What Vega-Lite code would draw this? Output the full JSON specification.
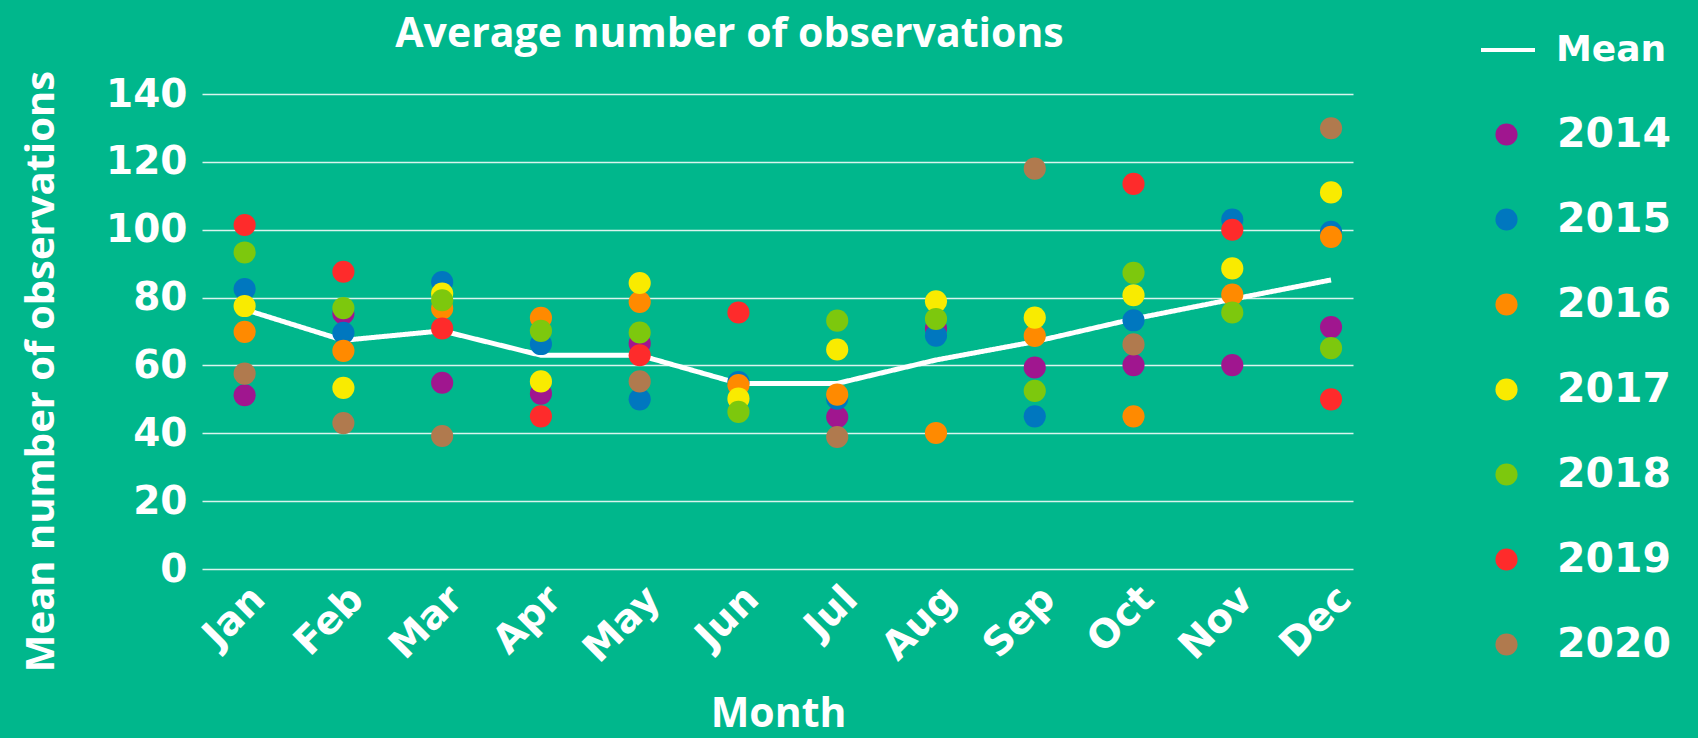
{
  "$schema": "https://vega.github.io/schema/vega-lite/v6.json",
  "autosize": {"type": "none"},
  "padding": {"left": 202, "top": 94, "right": 345, "bottom": 169},
  "width": 1151,
  "height": 475,
  "background": "#00B78C",
  "title": {
    "text": "Average number of observations",
    "color": "white",
    "font": "Open Sans",
    "fontWeight": 700,
    "fontSize": 41,
    "anchor": "middle",
    "frame": "group",
    "baseline": "alphabetic",
    "offset": -67,
    "dx": -48
  },
  "config": {
    "view": {"stroke": null},
    "axis": {"domain": false, "ticks": false}
  },
  "datasets": {
    "points": [
      {"month": "Jan", "year": "2014", "value": 51.2},
      {"month": "Jan", "year": "2015", "value": 82.5},
      {"month": "Jan", "year": "2016", "value": 69.9},
      {"month": "Jan", "year": "2017", "value": 77.5},
      {"month": "Jan", "year": "2018", "value": 93.3},
      {"month": "Jan", "year": "2019", "value": 101.4},
      {"month": "Jan", "year": "2020", "value": 57.6},
      {"month": "Feb", "year": "2014", "value": 75.3},
      {"month": "Feb", "year": "2015", "value": 69.6},
      {"month": "Feb", "year": "2016", "value": 64.3},
      {"month": "Feb", "year": "2017", "value": 53.4},
      {"month": "Feb", "year": "2018", "value": 76.9},
      {"month": "Feb", "year": "2019", "value": 87.6},
      {"month": "Feb", "year": "2020", "value": 43.0},
      {"month": "Mar", "year": "2014", "value": 54.9},
      {"month": "Mar", "year": "2015", "value": 84.6},
      {"month": "Mar", "year": "2016", "value": 76.8},
      {"month": "Mar", "year": "2017", "value": 81.2},
      {"month": "Mar", "year": "2018", "value": 79.2},
      {"month": "Mar", "year": "2019", "value": 70.9},
      {"month": "Mar", "year": "2020", "value": 39.2},
      {"month": "Apr", "year": "2014", "value": 51.7},
      {"month": "Apr", "year": "2015", "value": 66.3},
      {"month": "Apr", "year": "2016", "value": 74.0},
      {"month": "Apr", "year": "2017", "value": 55.3},
      {"month": "Apr", "year": "2018", "value": 70.2},
      {"month": "Apr", "year": "2019", "value": 45.0},
      {"month": "May", "year": "2014", "value": 66.5},
      {"month": "May", "year": "2015", "value": 50.0},
      {"month": "May", "year": "2016", "value": 78.7},
      {"month": "May", "year": "2017", "value": 84.3},
      {"month": "May", "year": "2018", "value": 69.7},
      {"month": "May", "year": "2019", "value": 63.0},
      {"month": "May", "year": "2020", "value": 55.3},
      {"month": "Jun", "year": "2015", "value": 55.1},
      {"month": "Jun", "year": "2016", "value": 54.2},
      {"month": "Jun", "year": "2017", "value": 50.2},
      {"month": "Jun", "year": "2018", "value": 46.3},
      {"month": "Jun", "year": "2019", "value": 75.6},
      {"month": "Jul", "year": "2014", "value": 44.8},
      {"month": "Jul", "year": "2015", "value": 50.2},
      {"month": "Jul", "year": "2016", "value": 51.4},
      {"month": "Jul", "year": "2017", "value": 64.7},
      {"month": "Jul", "year": "2018", "value": 73.2},
      {"month": "Jul", "year": "2020", "value": 38.9},
      {"month": "Aug", "year": "2014", "value": 70.9},
      {"month": "Aug", "year": "2015", "value": 68.8},
      {"month": "Aug", "year": "2016", "value": 40.1},
      {"month": "Aug", "year": "2017", "value": 78.9},
      {"month": "Aug", "year": "2018", "value": 73.7},
      {"month": "Sep", "year": "2014", "value": 59.4},
      {"month": "Sep", "year": "2015", "value": 45.0},
      {"month": "Sep", "year": "2016", "value": 68.7},
      {"month": "Sep", "year": "2017", "value": 74.1},
      {"month": "Sep", "year": "2018", "value": 52.5},
      {"month": "Sep", "year": "2020", "value": 118.0},
      {"month": "Oct", "year": "2014", "value": 60.1},
      {"month": "Oct", "year": "2015", "value": 73.3},
      {"month": "Oct", "year": "2016", "value": 45.0},
      {"month": "Oct", "year": "2017", "value": 80.7},
      {"month": "Oct", "year": "2018", "value": 87.3},
      {"month": "Oct", "year": "2019", "value": 113.5},
      {"month": "Oct", "year": "2020", "value": 66.2},
      {"month": "Nov", "year": "2014", "value": 60.1},
      {"month": "Nov", "year": "2015", "value": 103.0},
      {"month": "Nov", "year": "2016", "value": 80.9},
      {"month": "Nov", "year": "2017", "value": 88.6},
      {"month": "Nov", "year": "2018", "value": 75.6},
      {"month": "Nov", "year": "2019", "value": 100.0},
      {"month": "Dec", "year": "2014", "value": 71.3},
      {"month": "Dec", "year": "2015", "value": 99.4},
      {"month": "Dec", "year": "2016", "value": 97.9},
      {"month": "Dec", "year": "2017", "value": 111.0},
      {"month": "Dec", "year": "2018", "value": 65.1},
      {"month": "Dec", "year": "2019", "value": 50.0},
      {"month": "Dec", "year": "2020", "value": 129.9}
    ],
    "mean": [
      {"month": "Jan", "series": "Mean", "value": 76.5},
      {"month": "Feb", "series": "Mean", "value": 67.4},
      {"month": "Mar", "series": "Mean", "value": 70.2},
      {"month": "Apr", "series": "Mean", "value": 63.0},
      {"month": "May", "series": "Mean", "value": 63.0},
      {"month": "Jun", "series": "Mean", "value": 54.7},
      {"month": "Jul", "series": "Mean", "value": 54.7},
      {"month": "Aug", "series": "Mean", "value": 61.6},
      {"month": "Sep", "series": "Mean", "value": 67.0},
      {"month": "Oct", "series": "Mean", "value": 73.7},
      {"month": "Nov", "series": "Mean", "value": 79.5},
      {"month": "Dec", "series": "Mean", "value": 85.2}
    ]
  },
  "encoding": {
    "x": {
      "field": "month",
      "type": "ordinal",
      "sort": ["Jan", "Feb", "Mar", "Apr", "May", "Jun", "Jul", "Aug", "Sep", "Oct", "Nov", "Dec"],
      "scale": {"type": "point", "padding": 0.327, "align": 0.66},
      "axis": {
        "title": "Month",
        "titleColor": "white",
        "titleFont": "Open Sans",
        "titleFontWeight": 700,
        "titleFontSize": 41,
        "titleBaseline": "alphabetic",
        "titleAlign": "center",
        "titleX": 576,
        "titleY": 157,
        "labelAngle": -45,
        "labelColor": "white",
        "labelFont": "DejaVu Sans",
        "labelFontWeight": "bold",
        "labelFontSize": 39,
        "labelPadding": 10,
        "grid": false
      }
    },
    "y": {
      "field": "value",
      "type": "quantitative",
      "scale": {"domain": [0, 140], "nice": false},
      "axis": {
        "title": "Mean number of observations",
        "titleColor": "white",
        "titleFont": "Open Sans",
        "titleFontWeight": 700,
        "titleFontSize": 40,
        "titleBaseline": "alphabetic",
        "titleAlign": "center",
        "titleAngle": -90,
        "titleX": -149,
        "titleY": 277,
        "values": [0, 20, 40, 60, 80, 100, 120, 140],
        "labelColor": "white",
        "labelFont": "DejaVu Sans",
        "labelFontWeight": "bold",
        "labelFontSize": 39,
        "labelPadding": 15,
        "grid": true,
        "gridColor": "white",
        "gridOpacity": 0.85,
        "gridWidth": 1.5
      }
    }
  },
  "layer": [
    {
      "data": {"name": "mean"},
      "mark": {"type": "line", "color": "white", "strokeWidth": 5},
      "encoding": {
        "strokeDash": {
          "field": "series",
          "type": "nominal",
          "scale": {"range": [[1, 0]]},
          "legend": {
            "title": null,
            "orient": "none",
            "legendX": 1277,
            "legendY": -73,
            "padding": 0,
            "symbolType": "stroke",
            "symbolStrokeColor": "white",
            "symbolStrokeWidth": 4,
            "symbolSize": 2916,
            "labelOffset": 19,
            "labelColor": "white",
            "labelFont": "DejaVu Sans",
            "labelFontWeight": "bold",
            "labelFontSize": 36
          }
        }
      }
    },
    {
      "data": {"name": "points"},
      "mark": {"type": "circle", "size": 490, "opacity": 1},
      "encoding": {
        "color": {
          "field": "year",
          "type": "nominal",
          "scale": {
            "domain": ["2014", "2015", "2016", "2017", "2018", "2019", "2020"],
            "range": ["#A0168F", "#0077BF", "#FF8A00", "#F9EB00", "#7DC80D", "#FE2B2B", "#B07A4E"]
          },
          "legend": {
            "title": null,
            "orient": "none",
            "legendX": 1284,
            "legendY": 20,
            "padding": 0,
            "symbolType": "circle",
            "symbolSize": 490,
            "symbolOpacity": 1,
            "labelOffset": 30,
            "rowPadding": 43,
            "labelColor": "white",
            "labelFont": "DejaVu Sans",
            "labelFontWeight": "bold",
            "labelFontSize": 41
          }
        }
      }
    }
  ]
}
